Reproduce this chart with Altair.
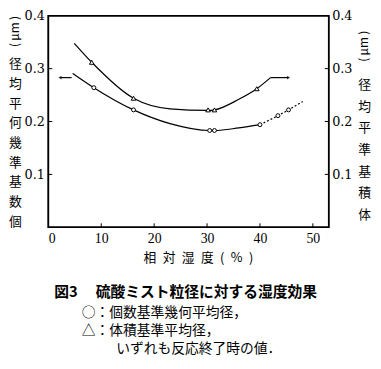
import altair as alt
import pandas as pd

# ---- data ----
# upper curve (volume-based mean diameter, triangles)
upper_curve_x = [4.9, 8.2, 16.1, 23.0, 30.2, 31.4, 36.0, 39.4, 42.0]
upper_curve_y = [0.348, 0.312, 0.244, 0.224, 0.221, 0.222, 0.242, 0.262, 0.283]
tri_x = [8.2, 16.1, 30.2, 31.4, 39.4]
tri_y = [0.312, 0.244, 0.222, 0.222, 0.262]

# lower curve (count-based geometric mean diameter, circles)
lower_curve_x = [4.6, 8.6, 16.1, 23.0, 30.5, 31.4, 36.0, 40.0]
lower_curve_y = [0.291, 0.264, 0.222, 0.196, 0.183, 0.183, 0.188, 0.194]
lower_dash_x = [40.0, 43.4, 45.4, 48.1]
lower_dash_y = [0.194, 0.211, 0.222, 0.238]
circle_x = [8.6, 16.1, 30.5, 31.4, 40.0, 43.4, 45.4]
circle_y = [0.264, 0.222, 0.183, 0.183, 0.194, 0.211, 0.222]

# axis-indicating arrows
arrow_left_x = [2.2, 4.4]
arrow_left_y = [0.283, 0.283]
arrow_right_x = [42.0, 45.4]
arrow_right_y = [0.283, 0.283]

# ticks and texts
x_ticks = [0, 10, 20, 30, 40, 50]
y_ticks = [0.1, 0.2, 0.3, 0.4]
x_inner_ticks = [10, 20, 30, 40, 50]
y_inner_ticks = [0.1, 0.2, 0.3]
x_title = "相\u2002対\u2002湿\u2002度\u2002(\u2002%\u2002)"
left_title_chars = ["径", "均", "平", "何", "幾", "準", "基", "数", "個"]
right_title_chars = ["径", "均", "平", "準", "基", "積", "体"]
unit_label = "(\u2009μm\u2009)"
caption = "図3\u3000 硫酸ミスト粒径に対する湿度効果"
caption_lines = [
    "\u200b\u3000\u3000○：個数基準幾何平均径，",
    "\u200b\u3000\u3000△：体積基準平均径，",
    "\u200b\u3000\u3000\u3000\u3000\u2002いずれも反応終了時の値．",
]

CJK = "Noto Sans CJK JP"
XMAX = 53
xs = alt.Scale(domain=[0, XMAX], nice=False, zero=False)
ys = alt.Scale(domain=[0, 0.4], nice=False, zero=False)

x_axis = alt.Axis(
    values=x_ticks, format="d", ticks=False, tickSize=0, domain=False, grid=False,
    labelFont="Liberation Serif", labelFontSize=14, labelColor="black",
    labelPadding=4, labelBaseline="top",
    title=x_title, titleFont=CJK, titleFontSize=13, titleFontWeight="normal",
    titleColor="black", titleX=152, titleY=31, titleAlign="center",
    titleBaseline="middle",
)
left_axis = alt.Axis(
    values=y_ticks, format=".1f", ticks=False, tickSize=0, domain=False, grid=False,
    orient="left", labelFont="DejaVu Serif", labelFontSize=13, labelColor="black",
    labelPadding=4,
    title=left_title_chars, titleAngle=0, titleX=-34, titleY=43,
    titleAlign="center", titleBaseline="top", titleLineHeight=20,
    titleFont=CJK, titleFontSize=13, titleFontWeight="normal", titleColor="black",
)
right_axis = alt.Axis(
    values=y_ticks, format=".1f", ticks=False, tickSize=0, domain=False, grid=False,
    orient="right", labelFont="DejaVu Serif", labelFontSize=13, labelColor="black",
    labelPadding=3,
    title=right_title_chars, titleAngle=0, titleX=36, titleY=64,
    titleAlign="center", titleBaseline="top", titleLineHeight=22,
    titleFont=CJK, titleFontSize=13, titleFontWeight="normal", titleColor="black",
)


def df(x, y):
    return pd.DataFrame({"x": x, "y": y})


def X():
    return alt.X("x:Q", scale=xs, axis=x_axis)


def Y(axis=None):
    return alt.Y("y:Q", scale=ys, axis=axis)


line_kw = dict(color="black", strokeWidth=1.2, interpolate="monotone")

frame = alt.Chart(pd.DataFrame({"f": [0]})).mark_rect(
    fill=None, stroke="black", strokeWidth=1.6).encode(
    x=alt.value(0), x2=alt.value(285), y=alt.value(0), y2=alt.value(215))

upper_line = alt.Chart(df(upper_curve_x, upper_curve_y)).mark_line(**line_kw).encode(
    x=X(), y=Y(left_axis))
lower_line = alt.Chart(df(lower_curve_x, lower_curve_y)).mark_line(**line_kw).encode(
    x=X(), y=Y(right_axis))
lower_dash = alt.Chart(df(lower_dash_x, lower_dash_y)).mark_line(
    strokeDash=[2, 2], **line_kw).encode(x=X(), y=Y())

arrow_l = alt.Chart(df(arrow_left_x, arrow_left_y)).mark_line(
    color="black", strokeWidth=1.2).encode(x=X(), y=Y())
arrow_r = alt.Chart(df(arrow_right_x, arrow_right_y)).mark_line(
    color="black", strokeWidth=1.2).encode(x=X(), y=Y())
head_l = alt.Chart(df(arrow_left_x[:1], arrow_left_y[:1])).mark_point(
    shape="triangle-left", filled=True, color="black", size=14).encode(x=X(), y=Y())
head_r = alt.Chart(df(arrow_right_x[-1:], arrow_right_y[-1:])).mark_point(
    shape="triangle-right", filled=True, color="black", size=14).encode(x=X(), y=Y())

circles = alt.Chart(df(circle_x, circle_y)).mark_point(
    shape="circle", size=16, stroke="black", fill="white", fillOpacity=1,
    strokeWidth=1, opacity=1).encode(x=X(), y=Y())
triangles = alt.Chart(df(tri_x, tri_y)).mark_point(
    shape="triangle-up", size=22, stroke="black", fill="white", fillOpacity=1,
    strokeWidth=1, opacity=1).encode(x=X(), y=Y())

tick_x = alt.Chart(pd.DataFrame({"x": x_inner_ticks})).mark_rule(
    color="black", strokeWidth=1).encode(x=X(), y=alt.value(215), y2=alt.value(211))
tick_yl = alt.Chart(pd.DataFrame({"y": y_inner_ticks})).mark_rule(
    color="black", strokeWidth=1).encode(y=Y(), x=alt.value(0), x2=alt.value(4))
tick_yr = alt.Chart(pd.DataFrame({"y": y_inner_ticks})).mark_rule(
    color="black", strokeWidth=1).encode(y=Y(), x=alt.value(285), x2=alt.value(281))

unit_l = alt.Chart(pd.DataFrame({"t": [unit_label]})).mark_text(
    angle=270, font=CJK, fontSize=12, color="black", align="center",
    baseline="middle").encode(text="t:N", x=alt.value(-34), y=alt.value(16))
unit_r = alt.Chart(pd.DataFrame({"t": [unit_label]})).mark_text(
    angle=270, font=CJK, fontSize=12, color="black", align="center",
    baseline="middle").encode(text="t:N", x=alt.value(321), y=alt.value(31))

chart = alt.layer(
    frame, upper_line, lower_line, lower_dash, arrow_l, arrow_r, head_l, head_r,
    circles, triangles, tick_x, tick_yl, tick_yr, unit_l, unit_r,
).resolve_scale(y="independent").properties(
    width=285,
    height=215,
    background="white",
    autosize=alt.AutoSizeParams(type="none"),
    padding={"left": 41, "top": 5, "right": 45, "bottom": 130},
    title=alt.Title(
        text=caption, subtitle=caption_lines, orient="bottom", anchor="start",
        frame="group", dx=6, offset=21, font=CJK, fontSize=15, fontWeight="bold",
        color="black", subtitleFont=CJK, subtitleFontSize=14,
        subtitleFontWeight="normal", subtitleColor="black", subtitlePadding=6,
        subtitleLineHeight=18.5,
    ),
).configure_view(stroke="black", strokeWidth=1.5)

chart.save("out.html", embed_options={"renderer": "svg", "actions": False})
